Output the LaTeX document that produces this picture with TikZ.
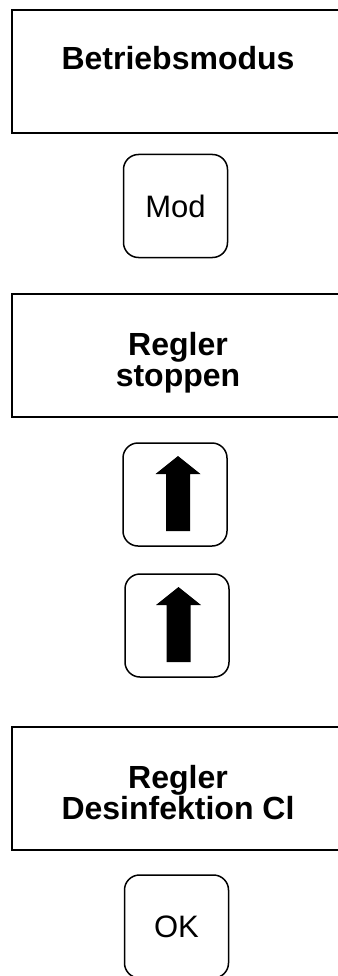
\documentclass[tikz,border=0pt]{standalone}
\usepackage{fontspec}
\setmainfont{Liberation Sans}
\begin{document}
\begin{tikzpicture}[x=1pt,y=-1pt,
  panel/.style={line width=2pt},
  title/.style={font=\fontsize{32}{31}\selectfont\bfseries, align=center, anchor=north, inner sep=0pt},
  key/.style={draw, line width=1.5pt, rounded corners=15pt, minimum width=104pt, minimum height=103pt, inner sep=0pt, font=\fontsize{31}{31}\selectfont},
  uparrow/.style={fill=black}]
\useasboundingbox (0,0) rectangle (337,976);
% panels
\draw[panel] (340,10) -- (12,10) -- (12,133) -- (340,133);
\node[title] (t1) at (178,46) {Betriebsmodus};
\node[key] (kmod) at (175.5,206) {Mod};
\draw[panel] (340,294) -- (12,294) -- (12,417) -- (340,417);
\node[title] (t2) at (178,332) {Regler\\stoppen};
\node[key] (kup1) at (175,494.5) {};
\begin{scope}[shift={(kup1.center)}]
\fill[uparrow] (3,-38.5) -- (25.5,-20.5) -- (15,-20.5) -- (15,36.5) -- (-9,36.5) -- (-9,-20.5) -- (-19.5,-20.5) -- cycle;
\end{scope}
\node[key] (kup2) at (177,625.5) {};
\begin{scope}[shift={(kup2.center)}]
\fill[uparrow] (1.5,-38.5) -- (24,-20.5) -- (13.5,-20.5) -- (13.5,36.5) -- (-10.5,36.5) -- (-10.5,-20.5) -- (-21,-20.5) -- cycle;
\end{scope}
\draw[panel] (340,727) -- (12,727) -- (12,850) -- (340,850);
\node[title] (t3) at (178,765) {Regler\\Desinfektion Cl};
\node[key] (kok) at (176.5,926.5) {OK};
\end{tikzpicture}
\end{document}
